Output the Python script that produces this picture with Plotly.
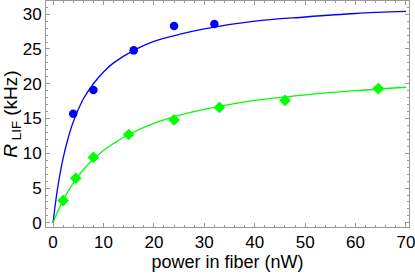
import plotly.graph_objects as go

# measured data
blue_x = [4, 8, 16, 24, 32]
blue_y = [15.7, 19.1, 24.8, 28.3, 28.6]
green_x = [2, 4.5, 8, 15, 24, 33, 46, 64.5]
green_y = [3.2, 6.4, 9.4, 12.7, 14.8, 16.6, 17.6, 19.3]

# fitted curves
blue_fit_x = [0, 0.5, 1, 2, 3, 4, 6, 8, 10, 12, 16, 20, 25, 30, 40, 50, 60, 70]
blue_fit_y = [0, 2.96, 5.43, 9.31, 12.2, 14.5, 17.8, 20.0, 21.7, 23.0, 24.8, 26.1, 27.1, 27.9, 29.0, 29.6, 30.1, 30.4]
green_fit_x = [0, 1, 2, 4, 6, 8, 10, 12, 15, 20, 25, 30, 40, 50, 60, 70]
green_fit_y = [0, 1.76, 3.27, 5.72, 7.63, 9.15, 10.4, 11.4, 12.7, 14.3, 15.45, 16.3, 17.6, 18.4, 19.0, 19.5]

BLUE = "#0000ff"
GREEN = "#00ff00"
FONT = "Liberation Sans, Arial"

fig = go.Figure()
fig.add_trace(go.Scatter(x=blue_fit_x, y=blue_fit_y, mode="lines",
                         line=dict(color=BLUE, width=1.3, shape="spline")))
fig.add_trace(go.Scatter(x=green_fit_x, y=green_fit_y, mode="lines",
                         line=dict(color=GREEN, width=1.3, shape="spline")))
fig.add_trace(go.Scatter(x=blue_x, y=blue_y, mode="markers",
                         marker=dict(color=BLUE, size=8.5, symbol="circle")))
fig.add_trace(go.Scatter(x=green_x, y=green_y, mode="markers",
                         marker=dict(color=GREEN, size=9, symbol="diamond")))

axis_common = dict(
    showgrid=False, zeroline=False, showline=True, linecolor="#999999", linewidth=1,
    mirror="allticks", ticks="inside", ticklen=4, tickcolor="#999999", tickwidth=1,
    tickfont=dict(family=FONT, size=17, color="black"),
    minor=dict(ticks="inside", ticklen=2, tickcolor="#999999", tickwidth=1),
    automargin=False, ticklabeloverflow="allow",
)

fig.update_layout(
    width=415, height=274,
    margin=dict(l=46, r=6, t=1, b=47),
    paper_bgcolor="white", plot_bgcolor="white",
    showlegend=False,
    xaxis=dict(range=[-1.4, 70.6], tick0=0, dtick=10, minor_dtick=2,
               title=dict(text="power in fiber (nW)", standoff=0,
                          font=dict(family=FONT, size=18, color="black")),
               **axis_common),
    yaxis=dict(range=[-0.6, 31.9], tick0=0, dtick=5, minor_dtick=1,
               title=dict(text="<i>R</i><sub> LIF</sub> (kHz)", standoff=2,
                          font=dict(family=FONT, size=19, color="black")),
               **axis_common),
)

fig.write_html("out.html", config={"displayModeBar": False},
               post_script="document.body.style.margin='0';")
